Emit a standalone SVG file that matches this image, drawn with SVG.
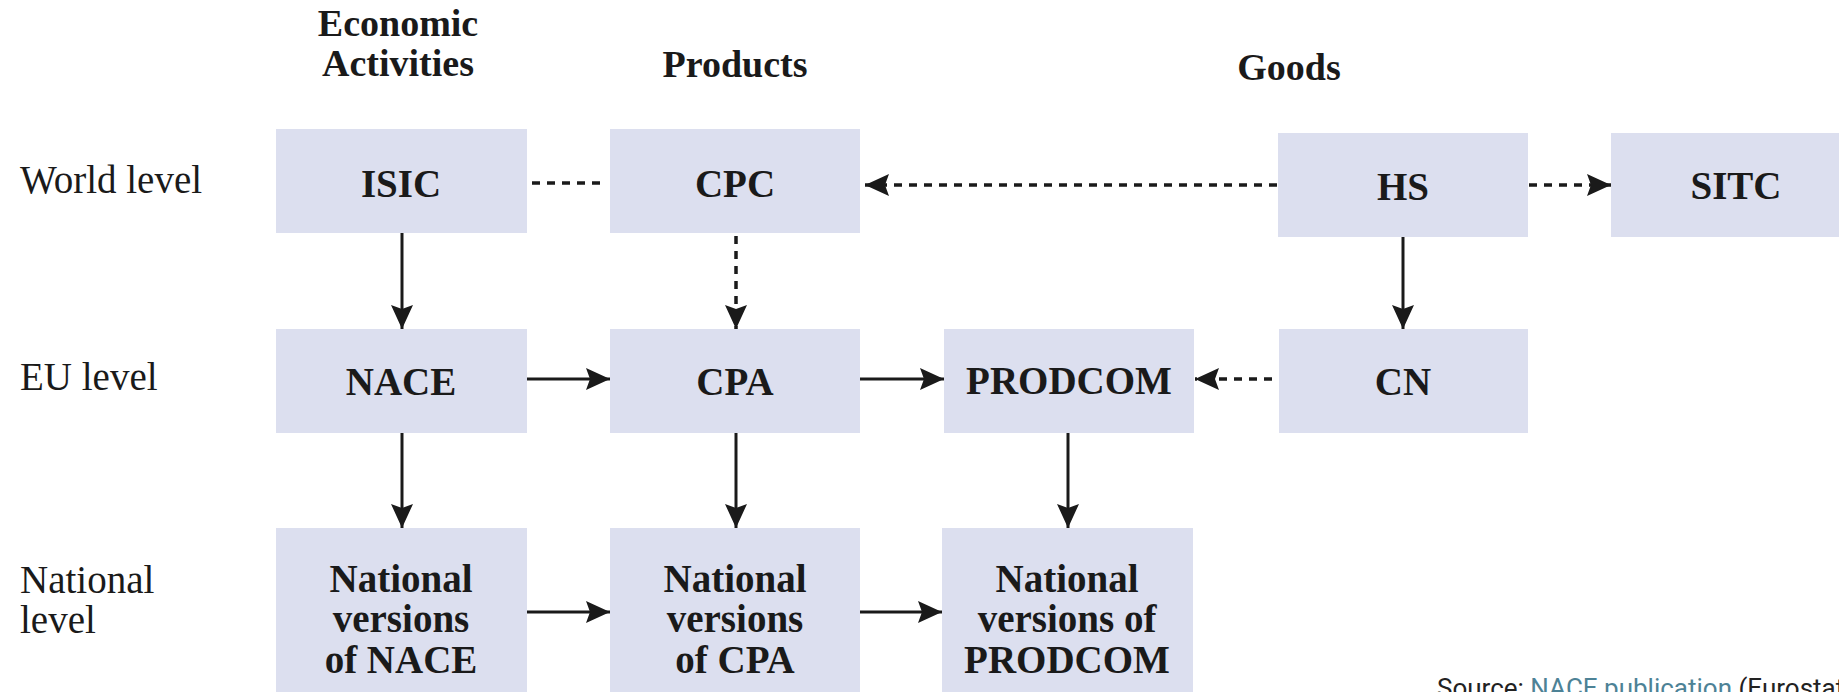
<svg xmlns="http://www.w3.org/2000/svg" width="1839" height="692" viewBox="0 0 1839 692">
<style>
.box{fill:#dcdfef}
.bt{font-family:"Liberation Serif","Times New Roman",serif;font-weight:bold;font-size:39px;fill:#1a1a1a;text-anchor:middle}
.hd{font-family:"Liberation Serif","Times New Roman",serif;font-weight:bold;font-size:38px;fill:#1a1a1a;text-anchor:middle}
.lv{font-family:"Liberation Serif","Times New Roman",serif;font-size:39px;fill:#1a1a1a}
.ln{stroke:#1a1a1a;stroke-width:3;fill:none}
.dash{stroke-dasharray:8 7;stroke-width:3.5}
.src{font-family:Roboto,"Liberation Sans",sans-serif;font-size:26px;fill:#222}
</style>
<defs>
<marker id="ah" markerUnits="userSpaceOnUse" markerWidth="26" markerHeight="24" refX="24" refY="11" orient="auto">
<path d="M0,0 L24,11 L0,22 L4,11 z" fill="#1a1a1a"/>
</marker>
</defs>
<rect width="1839" height="692" fill="#ffffff"/>

<g id="headers">
<text class="hd" x="398" y="36">Economic</text>
<text class="hd" x="398" y="76">Activities</text>
<text class="hd" x="735" y="77">Products</text>
<text class="hd" x="1289" y="80">Goods</text>
</g>

<g id="levels">
<text class="lv" x="20" y="193">World level</text>
<text class="lv" x="20" y="390">EU level</text>
<text class="lv" x="20" y="593">National</text>
<text class="lv" x="20" y="633">level</text>
</g>

<g id="isic"><rect class="box" x="276" y="129" width="251" height="104"/><text class="bt" x="401" y="197">ISIC</text></g>
<g id="cpc"><rect class="box" x="610" y="129" width="250" height="104"/><text class="bt" x="735" y="197">CPC</text></g>
<g id="hs"><rect class="box" x="1278" y="133" width="250" height="104"/><text class="bt" x="1403" y="200">HS</text></g>
<g id="sitc"><rect class="box" x="1611" y="133" width="250" height="104"/><text class="bt" x="1736" y="199">SITC</text></g>

<g id="nace"><rect class="box" x="276" y="329" width="251" height="104"/><text class="bt" x="401" y="395">NACE</text></g>
<g id="cpa"><rect class="box" x="610" y="329" width="250" height="104"/><text class="bt" x="735" y="395">CPA</text></g>
<g id="prodcom"><rect class="box" x="944" y="329" width="250" height="104"/><text class="bt" x="1069" y="394">PRODCOM</text></g>
<g id="cn"><rect class="box" x="1279" y="329" width="249" height="104"/><text class="bt" x="1403" y="395">CN</text></g>

<g id="nat-nace"><rect class="box" x="276" y="528" width="251" height="170"/>
<text class="bt" x="401" y="592">National</text><text class="bt" x="401" y="632">versions</text><text class="bt" x="401" y="673">of NACE</text></g>
<g id="nat-cpa"><rect class="box" x="610" y="528" width="250" height="170"/>
<text class="bt" x="735" y="592">National</text><text class="bt" x="735" y="632">versions</text><text class="bt" x="735" y="673">of CPA</text></g>
<g id="nat-prodcom"><rect class="box" x="942" y="528" width="251" height="170"/>
<text class="bt" x="1067" y="592">National</text><text class="bt" x="1067" y="632">versions of</text><text class="bt" x="1067" y="673">PRODCOM</text></g>

<g id="connectors">
<line class="ln dash" x1="532" y1="183" x2="604" y2="183"/>
<line class="ln dash" x1="1277" y1="185" x2="865" y2="185" marker-end="url(#ah)"/>
<line class="ln dash" x1="1529" y1="185" x2="1611" y2="185" marker-end="url(#ah)"/>
<line class="ln" x1="402" y1="233" x2="402" y2="329" marker-end="url(#ah)"/>
<line class="ln dash" x1="736" y1="236" x2="736" y2="329" marker-end="url(#ah)"/>
<line class="ln" x1="1403" y1="237" x2="1403" y2="329" marker-end="url(#ah)"/>
<line class="ln" x1="527" y1="379" x2="610" y2="379" marker-end="url(#ah)"/>
<line class="ln" x1="860" y1="379" x2="944" y2="379" marker-end="url(#ah)"/>
<line class="ln dash" x1="1272" y1="379" x2="1195" y2="379" marker-end="url(#ah)"/>
<line class="ln" x1="402" y1="433" x2="402" y2="528" marker-end="url(#ah)"/>
<line class="ln" x1="736" y1="433" x2="736" y2="528" marker-end="url(#ah)"/>
<line class="ln" x1="1068" y1="433" x2="1068" y2="528" marker-end="url(#ah)"/>
<line class="ln" x1="527" y1="612" x2="610" y2="612" marker-end="url(#ah)"/>
<line class="ln" x1="860" y1="612" x2="942" y2="612" marker-end="url(#ah)"/>
</g>

<text class="src" x="1437" y="697">Source: <tspan fill="#4d8296">NACE publication</tspan> (Eurostat</text>
</svg>
